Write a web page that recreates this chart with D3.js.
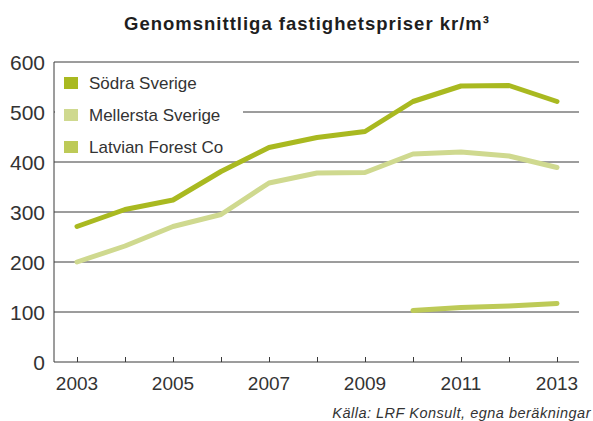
<!DOCTYPE html>
<html>
<head>
<meta charset="utf-8">
<script src="https://cdn.jsdelivr.net/npm/d3@7"></script>
<style>
body { margin: 0; background: #fff; }
svg text { font-family: "Liberation Sans", Arial, sans-serif; }
</style>
</head>
<body>
<svg id="chart" width="593" height="421"></svg>
<script>
var years = [2003, 2004, 2005, 2006, 2007, 2008, 2009, 2010, 2011, 2012, 2013];
var sodra = [271, 305, 324, 381, 429, 449, 461, 521, 552, 553, 521];
var mellersta = [200, 232, 271, 295, 358, 378, 379, 416, 420, 412, 389];
var latvianYears = [2010, 2011, 2012, 2013];
var latvian = [103, 109, 112, 117];
var yTicks = [0, 100, 200, 300, 400, 500, 600];
var xTicks = [2003, 2005, 2007, 2009, 2011, 2013];
var seriesNames = ["Södra Sverige", "Mellersta Sverige", "Latvian Forest Co"];
var colors = ["#a9b920", "#cfd98f", "#bdca57"];

var svg = d3.select("#chart");

var plotLeft = 54, plotRight = 579, plotTop = 62, plotBottom = 362;

var x = d3.scaleLinear().domain([2003, 2013]).range([77, 557]);
var y = d3.scaleLinear().domain([0, 600]).range([plotBottom, plotTop]);

// title
svg.append("text")
	.attr("x", 307)
	.attr("y", 30)
	.attr("text-anchor", "middle")
	.attr("font-size", 18.5)
	.attr("font-weight", "bold")
	.attr("letter-spacing", 1)
	.attr("fill", "#1e1e1e")
	.text("Genomsnittliga fastighetspriser kr/m³");

// grid lines
svg.append("g")
	.selectAll("line")
	.data(yTicks.filter(function (d) { return d > 0; }))
	.enter().append("line")
	.attr("x1", plotLeft)
	.attr("x2", plotRight)
	.attr("y1", function (d) { return y(d); })
	.attr("y2", function (d) { return y(d); })
	.attr("stroke", "#3a3a3a")
	.attr("stroke-width", 1);

// y labels
svg.append("g")
	.selectAll("text")
	.data(yTicks)
	.enter().append("text")
	.attr("x", 45)
	.attr("y", function (d) { return y(d); })
	.attr("dy", "0.38em")
	.attr("text-anchor", "end")
	.attr("font-size", 21)
	.attr("fill", "#333")
	.text(function (d) { return d; });

// left axis line
svg.append("line")
	.attr("x1", plotLeft).attr("x2", plotLeft)
	.attr("y1", plotTop).attr("y2", plotBottom)
	.attr("stroke", "#3a3a3a")
	.attr("stroke-width", 1);

// x axis with ticks pointing up
var xAxis = d3.axisBottom(x)
	.tickValues(years)
	.tickSize(-5)
	.tickSizeOuter(0)
	.tickFormat("");
var gx = svg.append("g")
	.attr("transform", "translate(0," + plotBottom + ")")
	.call(xAxis);
gx.select(".domain").remove();
gx.selectAll(".tick line").attr("stroke", "#3a3a3a");
gx.append("line")
	.attr("x1", plotLeft).attr("x2", plotRight)
	.attr("y1", 0).attr("y2", 0)
	.attr("stroke", "#3a3a3a");

svg.append("g")
	.selectAll("text")
	.data(xTicks)
	.enter().append("text")
	.attr("x", function (d) { return x(d); })
	.attr("y", 390)
	.attr("text-anchor", "middle")
	.attr("font-size", 19)
	.attr("fill", "#333")
	.text(function (d) { return d; });

// legend background covers the grid
svg.append("rect")
	.attr("x", plotLeft + 1)
	.attr("y", plotTop + 1)
	.attr("width", 188)
	.attr("height", 97)
	.attr("fill", "#fff");

var legend = svg.append("g")
	.selectAll("g")
	.data(seriesNames)
	.enter().append("g")
	.attr("transform", function (d, i) { return "translate(64," + (83 + i * 32) + ")"; });
legend.append("rect")
	.attr("x", 0)
	.attr("y", -6)
	.attr("width", 14)
	.attr("height", 12)
	.attr("fill", function (d, i) { return colors[i]; });
legend.append("text")
	.attr("x", 25)
	.attr("y", 0)
	.attr("dy", "0.36em")
	.attr("font-size", 17)
	.attr("fill", "#333")
	.text(function (d) { return d; });

// lines
var line = d3.line()
	.x(function (d) { return x(d[0]); })
	.y(function (d) { return y(d[1]); });

var seriesData = [
	years.map(function (yr, i) { return [yr, sodra[i]]; }),
	years.map(function (yr, i) { return [yr, mellersta[i]]; }),
	latvianYears.map(function (yr, i) { return [yr, latvian[i]]; })
];

svg.append("g")
	.selectAll("path")
	.data(seriesData)
	.enter().append("path")
	.attr("d", line)
	.attr("fill", "none")
	.attr("stroke", function (d, i) { return colors[i]; })
	.attr("stroke-width", 5)
	.attr("stroke-linecap", "round")
	.attr("stroke-linejoin", "round");

// source
svg.append("text")
	.attr("x", 591)
	.attr("y", 418)
	.attr("text-anchor", "end")
	.attr("font-size", 14.5)
	.attr("font-style", "italic")
	.attr("letter-spacing", 0.5)
	.attr("fill", "#333")
	.text("Källa: LRF Konsult, egna beräkningar");
</script>
</body>
</html>
